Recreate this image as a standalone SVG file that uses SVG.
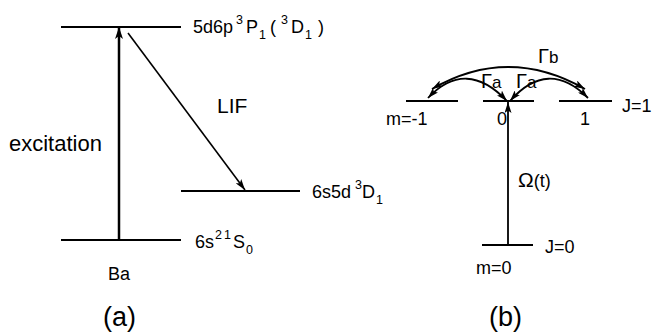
<svg xmlns="http://www.w3.org/2000/svg" width="655" height="333" viewBox="0 0 655 333">
<defs>
<style>
text{font-family:"Liberation Sans",Arial,sans-serif;fill:#000}
.lv{stroke:#000;stroke-width:2;fill:none}
.ar{stroke:#000;fill:none}
.t18{font-size:18px}
.t20{font-size:20px}
.cap{font-size:27px}
.s{font-size:12.5px}
.g{font-size:20px}
.gs{font-size:17px}
</style>
<marker id="ah" viewBox="0 0 12 8" refX="12" refY="4" markerWidth="12" markerHeight="8" markerUnits="userSpaceOnUse" orient="auto-start-reverse">
<path d="M0,0 L12,4 L0,8 L3,4 z" fill="#000"/>
</marker>
<marker id="ahs" viewBox="0 0 11 7" refX="11" refY="3.5" markerWidth="11" markerHeight="7" markerUnits="userSpaceOnUse" orient="auto-start-reverse">
<path d="M0,0 L11,3.5 L0,7 L2.5,3.5 z" fill="#000"/>
</marker>
</defs>
<rect width="655" height="333" fill="#fff"/>

<g id="level-5d6p">
<line class="lv" x1="61" y1="27" x2="181" y2="27"/>
<text class="t18" x="193" y="33">5d6p<tspan class="s" dx="3" dy="-9">3</tspan><tspan dx="3" dy="9">P</tspan><tspan class="s" dx="1" dy="6">1</tspan><tspan dx="4" dy="-6">(</tspan><tspan class="s" dx="5" dy="-9">3</tspan><tspan dx="3" dy="9">D</tspan><tspan class="s" dx="1" dy="6">1</tspan><tspan dx="6" dy="-6">)</tspan></text>
</g>
<g id="level-6s5d">
<line class="lv" x1="181" y1="191" x2="300" y2="191"/>
<text class="t18" x="312" y="198">6s5d<tspan class="s" dx="4" dy="-9">3</tspan><tspan dx="0" dy="9">D</tspan><tspan class="s" dx="1" dy="6">1</tspan></text>
</g>
<g id="level-6s2">
<line class="lv" x1="61" y1="240" x2="181" y2="240"/>
<text class="t18" x="195" y="248">6s<tspan class="s" dx="1" dy="-9">2</tspan><tspan class="s" dx="2">1</tspan><tspan dx="2" dy="9">S</tspan><tspan class="s" dx="1" dy="6">0</tspan></text>
</g>
<g id="labels-a">
<text x="9" y="151" font-size="22">excitation</text>
<text x="217" y="113" font-size="21">LIF</text>
<text class="t18" x="108" y="280">Ba</text>
<text class="cap" x="103" y="326">(a)</text>
</g>

<g id="levels-J1">
<line class="lv" x1="406" y1="101" x2="458" y2="101"/>
<line class="lv" x1="483" y1="101" x2="534" y2="101"/>
<line class="lv" x1="559" y1="101" x2="612" y2="101"/>
<text class="t18" x="386" y="125">m=-1</text>
<text class="t18" x="497" y="125">0</text>
<text class="t18" x="580" y="125">1</text>
<text class="t18" x="622" y="112">J=1</text>
</g>
<g id="level-J0">
<line class="lv" x1="482" y1="245" x2="533" y2="245"/>
<text class="t18" x="545" y="253">J=0</text>
<text class="t18" x="476" y="274">m=0</text>
</g>
<g id="labels-b">
<text class="t18" x="518" y="187"><tspan font-size="21">Ω</tspan>(t)</text>
<text x="481" y="88" class="g">Γ<tspan class="gs">a</tspan></text>
<text x="516" y="88" class="g">Γ<tspan class="gs">a</tspan></text>
<text x="538" y="63" class="g">Γ<tspan class="gs">b</tspan></text>
<text class="cap" x="489" y="326">(b)</text>
</g>

<g id="connectors">
<line class="ar" stroke-width="2.5" x1="119" y1="240" x2="119" y2="27" marker-end="url(#ah)"/>
<line class="ar" stroke-width="1.6" x1="128" y1="33" x2="245" y2="190" marker-end="url(#ahs)"/>
<line class="ar" stroke-width="1.8" x1="508" y1="245" x2="508" y2="102" marker-end="url(#ahs)"/>
<path class="ar" stroke-width="1.8" d="M432,89 Q508,45 585,89" marker-start="url(#ahs)" marker-end="url(#ahs)"/>
<path class="ar" stroke-width="1.8" d="M428,98 Q466,58 507,101" marker-start="url(#ahs)" marker-end="url(#ahs)"/>
<path class="ar" stroke-width="1.8" d="M510,101 Q548,58 588,98" marker-start="url(#ahs)" marker-end="url(#ahs)"/>
</g>
</svg>
